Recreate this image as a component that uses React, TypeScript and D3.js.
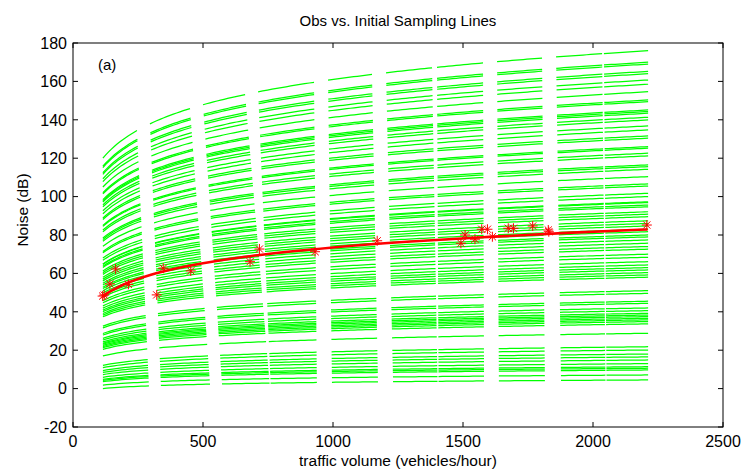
import React from "react";
import * as d3 from "d3";

// Sampling lines: level at x=115 (start) and at x=2210 (end)
const lineEnd = [4.5, 7.1, 9.7, 10.6, 11.4, 13.0, 14.9, 16.5, 18.0, 20.1, 21.8, 28.8, 33.7, 34.9, 35.8, 36.6, 37.5, 38.3, 39.2, 40.6, 42.0, 44.4, 45.5, 49.6, 51.0, 58.0, 59.2, 60.4, 61.8, 63.0, 64.4, 66.1, 68.4, 70.0, 72.6, 74.0, 75.7, 77.4, 79.0, 80.0, 81.7, 83.0, 84.7, 86.0, 87.4, 89.5, 90.8, 92.1, 94.7, 95.6, 96.9, 97.3, 100.0, 101.7, 105.5, 106.6, 110.4, 114.2, 115.6, 116.5, 121.2, 122.6, 125.2, 126.0, 130.4, 131.6, 134.7, 136.8, 139.9, 141.3, 143.4, 144.3, 145.1, 149.4, 150.3, 154.6, 158.5, 160.7, 164.0, 165.2, 169.0, 170.0, 176.0];
const lineStart = [0.0, 1.8, 3.6, 4.3, 4.8, 5.9, 7.3, 8.4, 9.4, 10.9, 12.1, 17.0, 20.4, 21.3, 21.9, 22.5, 23.1, 23.6, 24.3, 25.3, 26.2, 27.9, 28.7, 31.6, 32.5, 37.4, 38.3, 39.1, 40.1, 40.9, 41.9, 43.1, 44.7, 45.8, 47.6, 48.6, 49.8, 51.0, 52.1, 52.8, 54.0, 54.9, 56.1, 57.0, 58.0, 59.5, 60.4, 61.3, 63.1, 63.7, 64.7, 64.9, 66.8, 68.0, 70.7, 71.4, 74.1, 76.8, 77.7, 78.4, 81.7, 82.6, 84.5, 85.0, 88.1, 88.9, 91.1, 92.6, 94.7, 95.7, 97.2, 97.8, 98.4, 101.4, 102.0, 105.0, 107.8, 109.3, 111.6, 112.4, 115.1, 115.8, 120.0];

// traffic-volume segments for lowest / highest lines
const segLow = [[115, 292], [338, 527], [573, 756], [760, 938], [996, 1173], [1231, 1402], [1406, 1581], [1638, 1815], [1877, 2048], [2052, 2212]];
const segHigh = [[115, 246], [296, 450], [500, 662], [712, 927], [981, 1150], [1204, 1381], [1400, 1577], [1631, 1804], [1858, 2035], [2042, 2212]];

// observations
const obsX = [114, 120, 142, 164, 213, 322, 347, 453, 681, 717, 931, 1170, 1492, 1508, 1546, 1572, 1594, 1613, 1674, 1694, 1768, 1828, 1830, 2207];
const obsY = [48.2, 48.7, 54.5, 62.3, 54.3, 48.8, 62.7, 61.3, 66.1, 72.7, 71.3, 77.0, 75.7, 80.0, 77.8, 83.0, 83.0, 79.1, 83.5, 83.5, 84.7, 82.6, 81.7, 85.2];

// fitted curve
const fitX = [115, 150, 200, 300, 400, 500, 700, 1000, 1300, 1600, 1900, 2210];
const fitY = [48.0, 51.1, 54.5, 59.3, 62.7, 65.3, 69.3, 73.5, 76.6, 79.0, 81.1, 82.9];

const xTicks = [0, 500, 1000, 1500, 2000, 2500];
const yTicks = [-20, 0, 20, 40, 60, 80, 100, 120, 140, 160, 180];

const W = 742, H = 472;
const L = 73, R = 723, T = 43, B = 427;

export default function App() {
  const x = d3.scaleLinear().domain([0, 2500]).range([L, R]);
  const y = d3.scaleLinear().domain([-20, 180]).range([B, T]);
  const x0 = 115, x1 = 2210;
  const lnSpan = Math.log(x1 / x0);
  const line = d3.line<[number, number]>().x(d => x(d[0])).y(d => y(d[1]));

  const paths: string[] = [];
  lineStart.forEach((s, i) => {
    const e = lineEnd[i];
    const t = s / 120;
    segLow.forEach((lo, k) => {
      const hi = segHigh[k];
      const a = lo[0] + (hi[0] - lo[0]) * t;
      const b = lo[1] + (hi[1] - lo[1]) * t;
      const pts: [number, number][] = d3.range(0, 13).map(j => {
        const xv = a + ((b - a) * j) / 12;
        return [xv, s + ((e - s) * Math.log(xv / x0)) / lnSpan];
      });
      paths.push(line(pts) as string);
    });
  });

  const fitPts: [number, number][] = fitX.map((v, i) => [v, fitY[i]]);
  const star = (cx: number, cy: number) => {
    const r = 5, d = 3.6;
    return `M${cx - r},${cy}H${cx + r}M${cx},${cy - r}V${cy + r}M${cx - d},${cy - d}L${cx + d},${cy + d}M${cx - d},${cy + d}L${cx + d},${cy - d}`;
  };
  const font = "'Liberation Sans', Arial, sans-serif";

  return (
    <svg width={W} height={H} style={{ position: "absolute", left: 0, top: 0, background: "#fff" }} fontFamily={font}>
      <rect x={0} y={0} width={W} height={H} fill="#fff" />
      <g fill="none" stroke="#00ff00" strokeWidth={1.25}>
        {paths.map((p, i) => <path key={i} d={p} />)}
      </g>
      <path d={line.curve(d3.curveMonotoneX)(fitPts) as string} fill="none" stroke="#ff0000" strokeWidth={2.6} />
      <g fill="none" stroke="#ff0000" strokeWidth={1}>
        {obsX.map((v, i) => <path key={i} d={star(x(v), y(obsY[i]))} />)}
      </g>
      <rect x={L} y={T} width={R - L} height={B - T} fill="none" stroke="#000" strokeWidth={1} />
      <g stroke="#000" strokeWidth={1}>
        {xTicks.map(v => (
          <g key={v}>
            <line x1={x(v)} x2={x(v)} y1={B} y2={B - 5} />
            <line x1={x(v)} x2={x(v)} y1={T} y2={T + 5} />
          </g>
        ))}
        {yTicks.map(v => (
          <g key={v}>
            <line x1={L} x2={L + 5} y1={y(v)} y2={y(v)} />
            <line x1={R} x2={R - 5} y1={y(v)} y2={y(v)} />
          </g>
        ))}
      </g>
      <g fontSize={16} fill="#000">
        {xTicks.map(v => (
          <text key={v} x={x(v)} y={447} textAnchor="middle">{v}</text>
        ))}
        {yTicks.map(v => (
          <text key={v} x={67} y={y(v)} dy="0.36em" textAnchor="end">{v}</text>
        ))}
      </g>
      <text x={98} y={70} fontSize={15}>(a)</text>
      <text x={(L + R) / 2} y={26} fontSize={15} textAnchor="middle">Obs vs. Initial Sampling Lines</text>
      <text x={(L + R) / 2} y={466} fontSize={15.5} textAnchor="middle">traffic volume (vehicles/hour)</text>
      <text transform={`translate(28,210) rotate(-90)`} fontSize={15.5} textAnchor="middle">Noise (dB)</text>
    </svg>
  );
}
